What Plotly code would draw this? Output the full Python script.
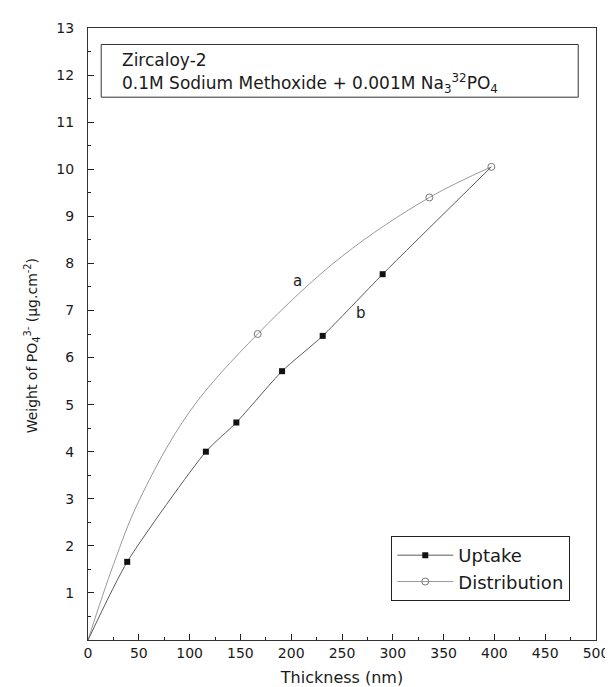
import plotly.graph_objects as go

# Data
# Uptake (filled squares, curve b)
uptake_x = [0, 38.6, 116, 146, 191, 231, 290, 397]
uptake_y = [0, 1.66, 4.0, 4.62, 5.71, 6.46, 7.77, 10.05]
# Distribution (open circles, curve a) - marked points
dist_x = [167, 336, 397]
dist_y = [6.5, 9.4, 10.05]
# Distribution curve
dist_curve_x = [0, 25, 50, 100, 167, 250, 336, 397]
dist_curve_y = [0, 1.6, 2.95, 4.85, 6.5, 8.15, 9.4, 10.05]

x_ticks = [0, 50, 100, 150, 200, 250, 300, 350, 400, 450, 500]
y_ticks = list(range(1, 14))

FONT = "DejaVu Sans, Liberation Sans, Arial, sans-serif"
TXT = "#1a1a1a"
B_COL = "#5a5a5a"
A_COL = "#9a9a9a"

fig = go.Figure()
# curve a line
fig.add_trace(go.Scatter(
    x=dist_curve_x, y=dist_curve_y, mode="lines", showlegend=False, hoverinfo="skip",
    line=dict(color=A_COL, width=1, shape="spline", smoothing=1.0),
))
# curve b line
fig.add_trace(go.Scatter(
    x=uptake_x, y=uptake_y, mode="lines", showlegend=False, hoverinfo="skip",
    line=dict(color=B_COL, width=1, shape="spline", smoothing=0.6),
))
# Uptake markers (origin and shared end point not marked)
fig.add_trace(go.Scatter(
    x=uptake_x[1:-1], y=uptake_y[1:-1], mode="markers", showlegend=False,
    marker=dict(symbol="square", size=6, color="#111111", line=dict(width=0)),
))
# Distribution markers
fig.add_trace(go.Scatter(
    x=dist_x, y=dist_y, mode="markers", showlegend=False,
    marker=dict(symbol="circle-open", size=7, color="#777777", line=dict(width=1, color="#777777")),
))

# legend entries
fig.add_trace(go.Scatter(x=[None], y=[None], name="Uptake", mode="lines+markers",
                         line=dict(color=B_COL, width=1),
                         marker=dict(symbol="square", size=6, color="#111111")))
fig.add_trace(go.Scatter(x=[None], y=[None], name="Distribution", mode="lines+markers",
                         line=dict(color=A_COL, width=1),
                         marker=dict(symbol="circle-open", size=7, color="#777777")))

fig.update_layout(
    width=613, height=687,
    margin=dict(l=80, r=15, t=17, b=51),
    paper_bgcolor="white", plot_bgcolor="white",
    font=dict(family=FONT, color=TXT, size=14),
    legend=dict(x=0.597, y=0.170, xanchor="left", yanchor="top",
                bordercolor="#222222", borderwidth=1,
                font=dict(size=18, family=FONT, color=TXT),
                tracegroupgap=0, itemwidth=56, bgcolor="white"),
)

fig.update_xaxes(
    range=[0, 500], tickvals=x_ticks, ticks="inside", ticklen=6, tickwidth=1.2,
    tickcolor="#222", showline=True, linecolor="#333", linewidth=1.2, mirror=True,
    showgrid=False, zeroline=False,
    minor=dict(dtick=25, ticks="inside", ticklen=3, tickcolor="#222"),
    title=dict(text="Thickness (nm)", font=dict(size=16, family=FONT), standoff=11),
    tickfont=dict(size=14, family=FONT),
)
fig.update_yaxes(
    range=[0, 13], tickvals=y_ticks, ticks="inside", ticklen=6, tickwidth=1.2,
    tickcolor="#222", showline=True, linecolor="#333", linewidth=1.2, mirror=True,
    showgrid=False, zeroline=False,
    minor=dict(dtick=0.5, ticks="inside", ticklen=3, tickcolor="#222"),
    tickfont=dict(size=14, family=FONT), ticklabelstandoff=10,
)

# Y axis title (placed as a rotated annotation to match the reference position)
fig.add_annotation(x=-0.110, y=6.24, xref="paper", yref="y", textangle=-90,
                   xanchor="center", yanchor="middle", showarrow=False,
                   text="Weight of PO<sub>4</sub><sup>3-</sup> (μg.cm<sup>-2</sup>)",
                   font=dict(size=14, family=FONT, color=TXT))

# Info box
fig.add_shape(type="rect", xref="paper", yref="y", x0=0.026, x1=0.965, y0=11.53, y1=12.65,
              line=dict(color="#333333", width=1), fillcolor="rgba(0,0,0,0)")
fig.add_annotation(x=31, y=12.33, xref="x", yref="y", xanchor="left", yanchor="middle",
                   text="Zircaloy-2", showarrow=False, font=dict(size=17, family=FONT, color=TXT))
fig.add_annotation(x=31, y=11.82, xref="x", yref="y", xanchor="left", yanchor="middle",
                   text="0.1M Sodium Methoxide + 0.001M Na<sub>3</sub><sup>32</sup>PO<sub>4</sub>",
                   showarrow=False, font=dict(size=17, family=FONT, color=TXT))

# curve labels
fig.add_annotation(x=206, y=7.62, text="a", showarrow=False, font=dict(size=15, family=FONT, color=TXT))
fig.add_annotation(x=269, y=6.95, text="b", showarrow=False, font=dict(size=15, family=FONT, color=TXT))

fig.write_html("out.html")
